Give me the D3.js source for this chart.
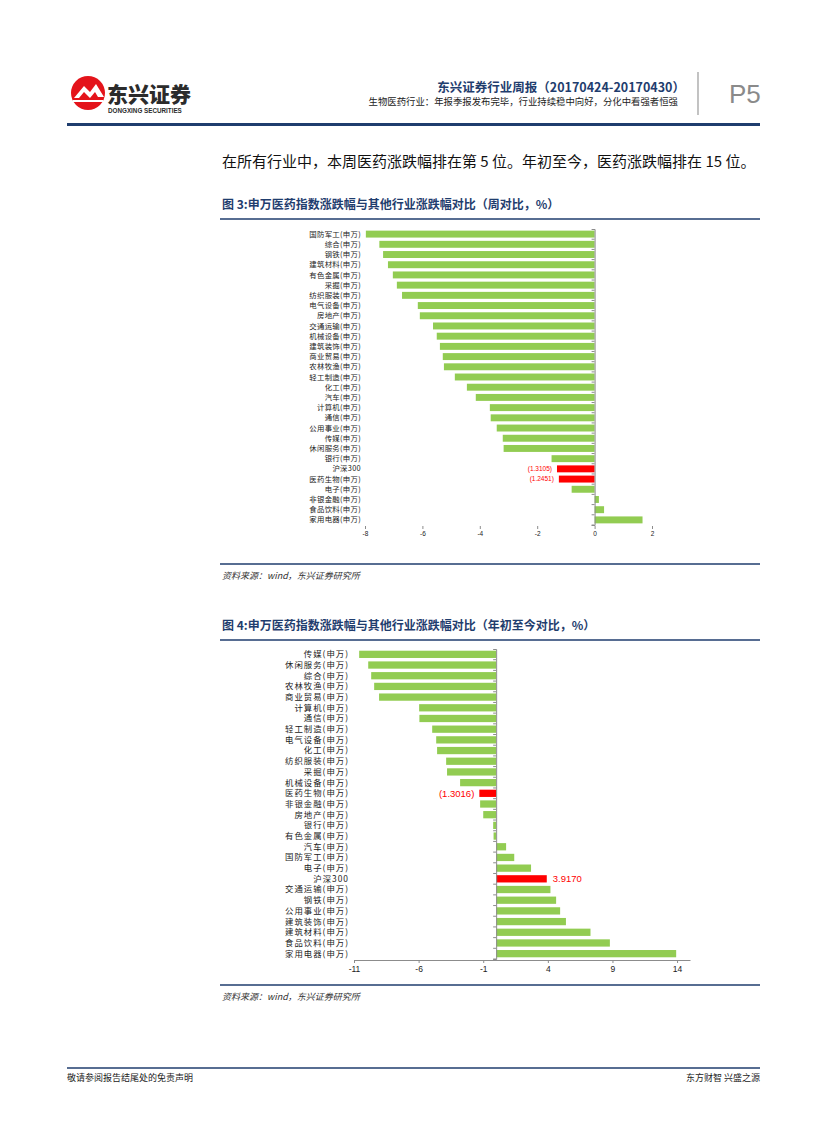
<!DOCTYPE html>
<html lang="zh">
<head>
<meta charset="UTF-8">
<script src="https://d3js.org/d3.v7.min.js"></script>
<title>P5</title>
<style>
  body { margin: 0; background: #fff; }
  svg { display: block; font-family: "Noto Sans CJK SC", "Noto Sans", sans-serif; }
</style>
</head>
<body>
<svg id="page" width="827" height="1122"></svg>
<script>
// figure 3: weekly change (%)
const weekLabels = ["国防军工(申万)", "综合(申万)", "钢铁(申万)", "建筑材料(申万)", "有色金属(申万)", "采掘(申万)",
  "纺织服装(申万)", "电气设备(申万)", "房地产(申万)", "交通运输(申万)", "机械设备(申万)", "建筑装饰(申万)",
  "商业贸易(申万)", "农林牧渔(申万)", "轻工制造(申万)", "化工(申万)", "汽车(申万)", "计算机(申万)", "通信(申万)",
  "公用事业(申万)", "传媒(申万)", "休闲服务(申万)", "银行(申万)", "沪深300", "医药生物(申万)", "电子(申万)",
  "非银金融(申万)", "食品饮料(申万)", "家用电器(申万)"];
const weekValues = [-7.97, -7.5, -7.37, -7.2, -7.03, -6.89, -6.71, -6.16, -6.09, -5.63, -5.5, -5.39, -5.29, -5.25,
  -4.87, -4.45, -4.14, -3.65, -3.62, -3.41, -3.2, -3.17, -1.5, -1.3105, -1.2451, -0.8, 0.15, 0.33, 1.67];
const weekTicks = [-8, -6, -4, -2, 0, 2];

// figure 4: year-to-date change (%)
const ytdLabels = ["传媒(申万)", "休闲服务(申万)", "综合(申万)", "农林牧渔(申万)", "商业贸易(申万)", "计算机(申万)",
  "通信(申万)", "轻工制造(申万)", "电气设备(申万)", "化工(申万)", "纺织服装(申万)", "采掘(申万)", "机械设备(申万)",
  "医药生物(申万)", "非银金融(申万)", "房地产(申万)", "银行(申万)", "有色金属(申万)", "汽车(申万)", "国防军工(申万)",
  "电子(申万)", "沪深300", "交通运输(申万)", "钢铁(申万)", "公用事业(申万)", "建筑装饰(申万)", "建筑材料(申万)",
  "食品饮料(申万)", "家用电器(申万)"];
const ytdValues = [-10.6, -9.9, -9.67, -9.44, -9.06, -5.96, -5.94, -4.95, -4.64, -4.57, -3.87, -3.8, -2.79,
  -1.3016, -1.24, -1.0, -0.23, -0.2, 0.77, 1.4, 2.7, 3.917, 4.2, 4.64, 4.95, 5.4, 7.3, 8.8, 13.93];
const ytdTicks = [-11, -6, -1, 4, 9, 14];

const highlight = ["沪深300", "医药生物(申万)"];

const GREEN = "#92cc52", RED = "#ff0000", NAVY = "#1f3d6e";
const svg = d3.select("#page");

// number label like the report: negatives in brackets
const fmtVal = v => v < 0 ? "(" + d3.format(".4f")(-v) + ")" : d3.format(".4f")(v);

// ---------- page header ----------
const logo = svg.append("g");
logo.append("circle").attr("cx", 88).attr("cy", 93).attr("r", 17).attr("fill", "#e4141b");
logo.append("path").attr("d", "M74,98 L84,86 L90,92 L96,84 L104,97 L98,97 L95,92 L90,98 L84,92 L79,98 Z").attr("fill", "#fff");
logo.append("rect").attr("x", 73).attr("y", 100).attr("width", 30).attr("height", 2).attr("fill", "#fff");
logo.append("text").attr("x", 107).attr("y", 102).attr("font-size", 21).attr("font-weight", 900)
  .attr("fill", "#2b2b2b").text("东兴证券");
logo.append("text").attr("x", 108).attr("y", 113).attr("font-size", 6.3).attr("font-family", "Liberation Sans, Arial")
  .attr("font-weight", 700).attr("fill", "#2b2b2b").text("DONGXING SECURITIES");

svg.append("text").attr("x", 685).attr("y", 92).attr("text-anchor", "end").attr("font-size", 12.5)
  .attr("font-weight", 700).attr("fill", NAVY).text("东兴证券行业周报（20170424-20170430）");
svg.append("text").attr("x", 678).attr("y", 105).attr("text-anchor", "end").attr("font-size", 9.4)
  .attr("fill", "#222").text("生物医药行业：年报季报发布完毕，行业持续稳中向好，分化中看强者恒强");
svg.append("line").attr("x1", 698).attr("x2", 698).attr("y1", 72).attr("y2", 115)
  .attr("stroke", "#9a9a9a").attr("stroke-width", 1.2);
svg.append("text").attr("x", 729).attr("y", 103).attr("font-size", 26).attr("font-family", "Liberation Sans, Arial")
  .attr("fill", "#8a8a8a").text("P5");
svg.append("rect").attr("x", 67).attr("y", 123).attr("width", 693).attr("height", 3).attr("fill", NAVY);

svg.append("text").attr("x", 222).attr("y", 167).attr("font-size", 15).attr("fill", "#111")
  .text("在所有行业中，本周医药涨跌幅排在第 5 位。年初至今，医药涨跌幅排在 15 位。");

// ---------- helpers ----------
function figTitle(y, txt) {
  svg.append("text").attr("x", 222).attr("y", y).attr("font-size", 12).attr("font-weight", 700)
    .attr("fill", NAVY).text(txt);
  svg.append("line").attr("x1", 220).attr("x2", 760).attr("y1", y + 10).attr("y2", y + 10)
    .attr("stroke", NAVY).attr("stroke-width", 1.5);
}
function figSource(y) {
  svg.append("line").attr("x1", 220).attr("x2", 760).attr("y1", y).attr("y2", y)
    .attr("stroke", NAVY).attr("stroke-width", 1.5);
  svg.append("text").attr("x", 222).attr("y", y + 15).attr("font-size", 9).attr("font-style", "italic")
    .attr("fill", "#333").text("资料来源：wind，东兴证券研究所");
}

function barChart(opt) {
  const x = d3.scaleLinear().domain(opt.domain).range(opt.xRange);
  const y = d3.scaleBand().domain(opt.labels).range(opt.yRange).paddingInner(0.32).paddingOuter(0.16);
  const g = svg.append("g");

  g.selectAll("rect.bar").data(opt.values).join("rect")
    .attr("class", "bar")
    .attr("x", d => x(Math.min(0, d)))
    .attr("y", (d, i) => y(opt.labels[i]))
    .attr("width", d => Math.abs(x(d) - x(0)))
    .attr("height", y.bandwidth())
    .attr("fill", (d, i) => highlight.includes(opt.labels[i]) ? RED : GREEN);

  // data labels on red bars
  g.selectAll("text.val").data(opt.values.map((v, i) => [v, opt.labels[i]]).filter(d => highlight.includes(d[1])))
    .join("text").attr("class", "val")
    .attr("x", d => d[0] < 0 ? x(d[0]) - 5 : x(d[0]) + 6)
    .attr("y", d => y(d[1]) + y.bandwidth() / 2)
    .attr("dy", "0.35em")
    .attr("text-anchor", d => d[0] < 0 ? "end" : "start")
    .attr("font-size", opt.valSize).attr("font-family", "Liberation Sans, Arial")
    .attr("fill", RED).text(d => fmtVal(d[0]));

  // category labels
  g.selectAll("text.cat").data(opt.labels).join("text").attr("class", "cat")
    .attr("x", opt.labelX).attr("y", d => y(d) + y.bandwidth() / 2).attr("dy", "0.35em")
    .attr("text-anchor", "end").attr("font-size", opt.catSize).attr("letter-spacing", opt.catSpacing)
    .attr("fill", "#222").text(d => d);

  // vertical category axis at zero
  const yAxis = d3.axisLeft(y).tickSize(3).tickFormat("");
  const ya = g.append("g").attr("transform", `translate(${x(0)},0)`).call(yAxis);
  ya.select(".domain").attr("stroke", "#8c8c8c");
  ya.selectAll(".tick line").attr("stroke", "#8c8c8c").attr("transform", `translate(0,${y.step() / 2})`);

  // value axis
  const xAxis = d3.axisBottom(x).tickValues(opt.ticks).tickSize(opt.tickSize).tickSizeOuter(0).tickFormat(d => String(d));
  const xa = g.append("g").attr("transform", `translate(0,${opt.axisY})`).call(xAxis);
  xa.select(".domain").attr("stroke", opt.showDomain ? "#8c8c8c" : "none");
  xa.selectAll(".tick line").attr("stroke", "#8c8c8c");
  xa.selectAll(".tick text").attr("font-size", opt.tickFont).attr("font-family", "Liberation Sans, Arial")
    .attr("fill", "#222").attr("dy", opt.tickDy);
}

// ---------- figure 3 ----------
figTitle(209, "图 3:申万医药指数涨跌幅与其他行业涨跌幅对比（周对比，%）");
barChart({
  labels: weekLabels, values: weekValues, ticks: weekTicks,
  domain: [-8, 2], xRange: [365, 652], yRange: [229, 525],
  labelX: 361, axisY: 526, tickSize: 3, showDomain: false, tickFont: 6.5, tickDy: "0.6em", valSize: 6.5,
  catSize: 7.4, catSpacing: 0.3
});
figSource(564);

// ---------- figure 4 ----------
figTitle(630, "图 4:申万医药指数涨跌幅与其他行业涨跌幅对比（年初至今对比，%）");
barChart({
  labels: ytdLabels, values: ytdValues, ticks: ytdTicks,
  domain: [-11, 15], xRange: [354, 690], yRange: [649, 959],
  labelX: 349, axisY: 960, tickSize: 3, showDomain: true, tickFont: 8.5, tickDy: "0.7em", valSize: 9.5,
  catSize: 8.4, catSpacing: 1
});
figSource(985);

// ---------- footer ----------
svg.append("line").attr("x1", 67).attr("x2", 760).attr("y1", 1068).attr("y2", 1068)
  .attr("stroke", NAVY).attr("stroke-width", 1.5);
svg.append("text").attr("x", 67).attr("y", 1081).attr("font-size", 9).attr("fill", "#222").text("敬请参阅报告结尾处的免责声明");
svg.append("text").attr("x", 760).attr("y", 1081).attr("text-anchor", "end").attr("font-size", 9).attr("fill", "#222").text("东方财智 兴盛之源");
</script>
</body>
</html>
